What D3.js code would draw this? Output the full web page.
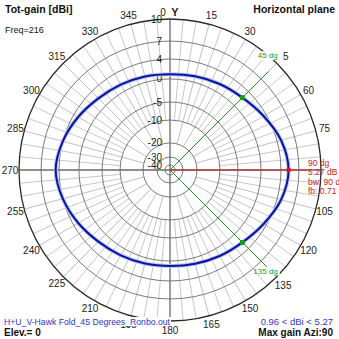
<!DOCTYPE html>
<html>
<head>
<meta charset="utf-8">
<script src="https://cdn.jsdelivr.net/npm/d3@7"></script>
<style>
  html, body { margin: 0; padding: 0; background: #fff; }
  svg { display: block; font-family: "Liberation Sans", Arial, sans-serif; }
</style>
</head>
<body>
<svg id="chart" width="339" height="339"></svg>
<script>
// Azimuth of each pattern sample (degrees, clockwise from Y)
const azimuths = [0, 15, 30, 45, 60, 75, 90, 105, 120, 135, 150, 165,
                  180, 195, 210, 225, 240, 255, 270, 285, 300, 315, 330, 345];
// Total gain in dBi at each azimuth
const gains = [0.96, 1.2, 1.66, 2.27, 3.4, 4.67, 5.27, 4.67, 3.4, 2.27, 1.66, 1.2,
               0.98, 1.15, 1.5, 2.05, 3.0, 4.0, 4.56, 4.0, 3.0, 2.05, 1.5, 1.15];
// Gain ring values (dBi)
const ringValues = [10, 7, 4, 0, -5, -10, -20, -30, -40];
// Azimuth tick labels
const angleLabels = [0, 15, 30, 45, 60, 75, 90, 105, 120, 135, 150, 165,
                     180, 195, 210, 225, 240, 255, 270, 285, 300, 315, 330, 345];
// Max gain and -3 dB beamwidth markers
const maxAzi = 90, maxGain = 5.27;
const bwAngles = [45, 135], bwGain = 2.27;
const bwDeg = 90, fbRatio = 0.71;
const minGain = 0.96;

const svg = d3.select("#chart");
const cx = 170, cy = 170, R = 151;

// Compressed dB scale used by the plot rings
const rScale = d3.scaleLinear()
  .domain([-40, -30, -20, -10, -5, 0, 4, 7, 10])
  .range([0.033, 0.086, 0.179, 0.331, 0.45, 0.603, 0.735, 0.854, 1].map(f => f * R))
  .clamp(true);
const rad = d => d * Math.PI / 180;
const px = (a, r) => cx + r * Math.sin(rad(a));
const py = (a, r) => cy - r * Math.cos(rad(a));

const g = svg.append("g");

// Light 5-degree spokes
const fine = d3.range(0, 360, 5).filter(a => a % 15 !== 0);
g.selectAll("line.fine").data(fine).join("line")
  .attr("x1", a => px(a, rScale(-10))).attr("y1", a => py(a, rScale(-10)))
  .attr("x2", a => px(a, R)).attr("y2", a => py(a, R))
  .attr("stroke", "#c8c8c8").attr("stroke-width", 1);

// 15-degree spokes
const coarse = d3.range(0, 360, 15).filter(a => a % 90 !== 0);
g.selectAll("line.coarse").data(coarse).join("line")
  .attr("x1", a => px(a, rScale(-20))).attr("y1", a => py(a, rScale(-20)))
  .attr("x2", a => px(a, R)).attr("y2", a => py(a, R))
  .attr("stroke", "#c0c0c0").attr("stroke-width", 1);

// Gain rings
g.selectAll("circle.ring").data(ringValues.slice(1)).join("circle")
  .attr("cx", cx).attr("cy", cy).attr("r", d => rScale(d))
  .attr("fill", "none").attr("stroke", "#7a7a7a").attr("stroke-width", 1);

// Main axes
[0, 90].forEach(a => {
  g.append("line")
    .attr("x1", px(a, R)).attr("y1", py(a, R))
    .attr("x2", px(a + 180, R)).attr("y2", py(a + 180, R))
    .attr("stroke", "#6a6a6a").attr("stroke-width", 1.3);
});

// Outer ring
g.append("circle").attr("cx", cx).attr("cy", cy).attr("r", rScale(10))
  .attr("fill", "none").attr("stroke", "#2a2a2a").attr("stroke-width", 1.3);

// -3 dB beamwidth lines
const bwLen = R - 12;
g.selectAll("line.bw").data(bwAngles).join("line")
  .attr("x1", cx).attr("y1", cy)
  .attr("x2", a => px(a, bwLen)).attr("y2", a => py(a, bwLen))
  .attr("stroke", "#1a9a1a").attr("stroke-width", 1);

// Max gain direction
g.append("line")
  .attr("x1", cx).attr("y1", cy)
  .attr("x2", px(maxAzi, R - 14)).attr("y2", py(maxAzi, R - 14))
  .attr("stroke", "#cc2020").attr("stroke-width", 1);

// Ring labels
g.selectAll("text.ringlab").data(ringValues).join("text")
  .attr("x", cx - 8).attr("y", d => cy - rScale(d))
  .attr("text-anchor", "end").attr("dominant-baseline", "central")
  .attr("font-size", 10).attr("fill", "#222")
  .text(d => d);

// Azimuth labels
const labR = 160;
g.selectAll("text.azlab").data(angleLabels.filter(a => a !== 90)).join("text")
  .attr("x", a => a === 0 ? cx - 7 : px(a, labR))
  .attr("y", a => a === 0 ? 12 : (a === 135 ? py(a, labR) + 2 : py(a, labR)))
  .attr("text-anchor", "middle").attr("dominant-baseline", "central")
  .attr("font-size", 10).attr("fill", "#222")
  .text(a => a);
g.append("text").attr("x", cx + 5).attr("y", 12)
  .attr("text-anchor", "middle").attr("dominant-baseline", "central")
  .attr("font-size", 11).attr("font-weight", "bold").attr("fill", "#222").text("Y");

// Radiation pattern
const pts = azimuths.map((a, i) => [rad(a), rScale(gains[i])]);
const line = d3.lineRadial().curve(d3.curveCatmullRomClosed.alpha(0.5));
g.append("path")
  .attr("transform", `translate(${cx},${cy})`)
  .attr("d", line(pts))
  .attr("fill", "none").attr("stroke", "#b8c4ee").attr("stroke-width", 4);
g.append("path")
  .attr("transform", `translate(${cx},${cy})`)
  .attr("d", line(pts))
  .attr("fill", "none").attr("stroke", "#0a14a0").attr("stroke-width", 2);

// Markers
g.selectAll("circle.bwdot").data(bwAngles).join("circle")
  .attr("cx", a => px(a, rScale(bwGain))).attr("cy", a => py(a, rScale(bwGain)))
  .attr("r", 2.6).attr("fill", "#1a9a1a");
g.append("circle")
  .attr("cx", px(maxAzi, rScale(maxGain))).attr("cy", py(maxAzi, rScale(maxGain)))
  .attr("r", 2.4).attr("fill", "#dd1010");

// Beamwidth labels on a white patch, placed near the outer ring
const bwLab = g.selectAll("g.bwlab").data(bwAngles).join("g")
  .attr("transform", (a, i) => `translate(${px(a, R) + 1},${py(a, R) + (i === 0 ? -5 : -3)})`);
bwLab.append("rect").attr("x", -16).attr("y", -7).attr("width", (a, i) => i === 0 ? 21 : 18).attr("height", 9)
  .attr("fill", "#fff");
bwLab.append("text").attr("text-anchor", "end")
  .attr("font-size", 8).attr("fill", "#1a9a1a")
  .text(a => a + " dg");

// Max gain annotation
const redTexts = [`${maxAzi} dg`, `${maxGain} dB`, `bw: ${bwDeg} dg`, `fb: ${fbRatio} dB`];
g.selectAll("text.red").data(redTexts).join("text")
  .attr("x", 308).attr("y", (d, i) => 166 + i * 9.3)
  .attr("font-size", 8.5).attr("fill", "#cc1a1a")
  .text(d => d);

// Titles
svg.append("text").attr("x", 5).attr("y", 13)
  .attr("font-size", 10.5).attr("font-weight", "bold").attr("fill", "#111")
  .text("Tot-gain [dBi]");
svg.append("text").attr("x", 5).attr("y", 33)
  .attr("font-size", 9).attr("fill", "#111").text("Freq=216");
svg.append("text").attr("x", 335).attr("y", 13).attr("text-anchor", "end")
  .attr("font-size", 10.5).attr("font-weight", "bold").attr("fill", "#111")
  .text("Horizontal plane");
svg.append("rect").attr("x", 3).attr("y", 317).attr("width", 168).attr("height", 9)
  .attr("fill", "#fff");
svg.append("text").attr("x", 4).attr("y", 325)
  .attr("font-size", 9.5).attr("fill", "#3333cc")
  .attr("textLength", 166).attr("lengthAdjust", "spacingAndGlyphs")
  .text("H+U_V-Hawk Fold_45 Degrees_Ronbo.out");
svg.append("text").attr("x", 4).attr("y", 336)
  .attr("font-size", 10).attr("font-weight", "bold").attr("fill", "#111")
  .text("Elev.= 0");
svg.append("text").attr("x", 333).attr("y", 325).attr("text-anchor", "end")
  .attr("font-size", 9.5).attr("fill", "#3333cc")
  .text(`${minGain} < dBi < ${maxGain}`);
svg.append("text").attr("x", 333).attr("y", 336).attr("text-anchor", "end")
  .attr("font-size", 10).attr("font-weight", "bold").attr("fill", "#111")
  .text(`Max gain Azi:${maxAzi}`);
</script>
</body>
</html>
